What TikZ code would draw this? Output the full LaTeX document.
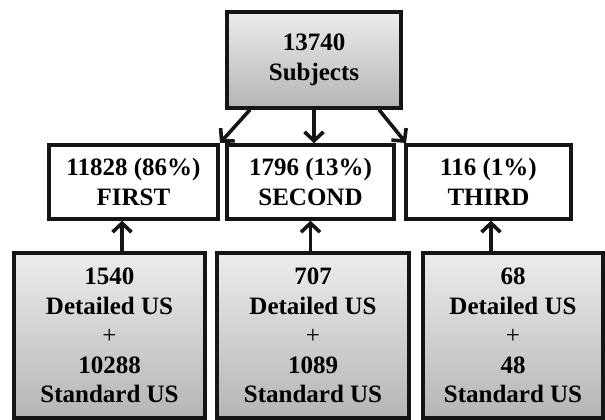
\documentclass[tikz,border=0pt]{standalone}
\usepackage{fontspec}
\setmainfont{Liberation Serif}
\usetikzlibrary{arrows.meta}
\definecolor{edge}{HTML}{151515}
\tikzset{
  boxbase/.style={draw=edge, line width=3.4pt, rectangle, inner sep=0pt, align=center,
    font=\fontsize{25}{29.5}\selectfont\bfseries, text=black},
  grayboxA/.style={boxbase, top color=gray!15, bottom color=gray!58},
  whitebox/.style={boxbase, fill=white},
  arr/.style={draw=edge, line width=3.6pt, -{Straight Barb[length=9pt,width=19pt,line width=3.6pt]}}
}
\begin{document}
\begin{tikzpicture}[x=1pt,y=-1pt]
\useasboundingbox (0,0) rectangle (605,420);
\node[grayboxA, minimum width=174pt, minimum height=96pt] (top) at (314,60) {13740\\Subjects};
\node[whitebox, minimum width=169pt, minimum height=74pt] (m1) at (133.5,182) {11828 (86\%)\\FIRST};
\node[whitebox, minimum width=167pt, minimum height=74pt] (m2) at (310.5,182) {1796 (13\%)\\SECOND};
\node[whitebox, minimum width=165pt, minimum height=74pt] (m3) at (488.5,182) {116 (1\%)\\THIRD};
\node[grayboxA, minimum width=191pt, minimum height=165pt] (b1) at (109.5,335.5) {1540\\Detailed US\\{\mdseries +}\\10288\\Standard US};
\node[grayboxA, minimum width=192pt, minimum height=165pt] (b2) at (313,335.5) {707\\Detailed US\\{\mdseries +}\\1089\\Standard US};
\node[grayboxA, minimum width=180pt, minimum height=165pt] (b3) at (513,335.5) {68\\Detailed US\\{\mdseries +}\\48\\Standard US};
\coordinate (t1) at (220,143);
\coordinate (t3) at (406,143);
\draw[arr] (top.south -| 250,0) -- (t1);
\draw[arr] (top.south) -- (top.south |- m2.north);
\draw[arr] (top.south -| 379,0) -- (t3);
\draw[arr] (b1.north -| 122,0) -- (m1.south -| 122,0);
\draw[arr] (b2.north -| m2.south) -- (m2.south);
\draw[arr] (b3.north -| 491,0) -- (m3.south -| 491,0);
\end{tikzpicture}
\end{document}
